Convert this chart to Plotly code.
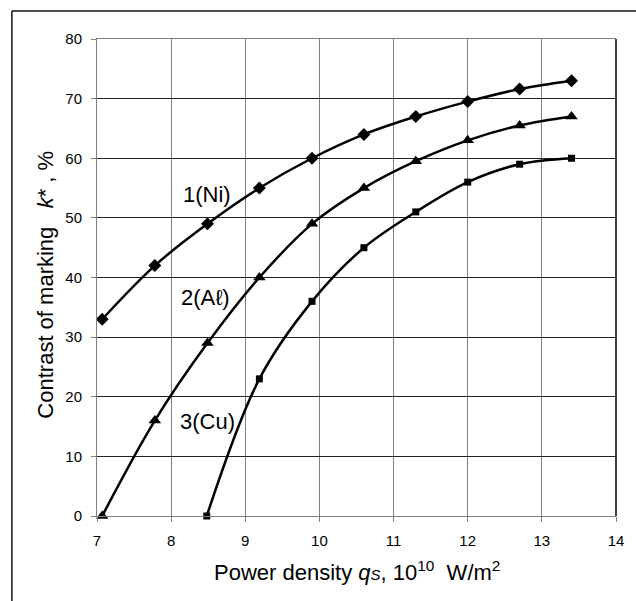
import plotly.graph_objects as go

# Data
x_ni = [7.07, 7.78, 8.49, 9.19, 9.9, 10.6, 11.3, 12.0, 12.7, 13.4]
y_ni = [33, 42, 49, 55, 60, 64, 67, 69.5, 71.6, 73]

x_al = [7.07, 7.78, 8.49, 9.19, 9.9, 10.6, 11.3, 12.0, 12.7, 13.4]
y_al = [0, 16, 29, 40, 49, 55, 59.5, 63, 65.5, 67]

x_cu = [8.48, 9.19, 9.9, 10.6, 11.3, 12.0, 12.7, 13.4]
y_cu = [0, 23, 36, 45, 51, 56, 59, 60]

series_names = ["1(Ni)", "2(Aℓ)", "3(Cu)"]
label_pos = [(8.48, 54.0), (8.46, 36.7), (8.49, 15.8)]

x_ticks = [7, 8, 9, 10, 11, 12, 13, 14]
y_ticks = [0, 10, 20, 30, 40, 50, 60, 70, 80]

FONT = "Arial, Liberation Sans, sans-serif"

fig = go.Figure()
for xs, ys, sym, sz, name in [
    (x_ni, y_ni, "diamond", 10, series_names[0]),
    (x_al, y_al, "triangle-up", 11, series_names[1]),
    (x_cu, y_cu, "square", 7, series_names[2]),
]:
    fig.add_trace(go.Scatter(
        x=xs, y=ys, mode="lines+markers", name=name,
        line=dict(color="black", width=2.5, shape="spline", smoothing=1),
        marker=dict(symbol=sym, size=sz, color="black"),
        showlegend=False, cliponaxis=False,
    ))

for name, (lx, ly) in zip(series_names, label_pos):
    fig.add_annotation(x=lx, y=ly, text=name, showarrow=False,
                       xanchor="center", yanchor="middle",
                       font=dict(family=FONT, size=22, color="black"))

fig.add_annotation(xref="paper", yref="paper", x=0.5, y=-0.1153,
                   text="Power density <i>q<span style='font-size:15px'>S</span></i>, 10<sup>10</sup>  W/m<sup>2</sup>",
                   showarrow=False, xanchor="center", yanchor="middle",
                   font=dict(family=FONT, size=22, color="black"))
fig.add_annotation(xref="paper", yref="paper", x=-0.0992, y=0.484,
                   text="Contrast of marking   <i>k</i>* , %", textangle=-90,
                   showarrow=False, xanchor="center", yanchor="middle",
                   font=dict(family=FONT, size=22, color="black"))

# outer frame (left and top edges visible; others fall outside the page)
fig.add_shape(type="line", xref="paper", yref="paper",
              x0=-0.164, x1=1.6, y0=1.0587, y1=1.0587,
              line=dict(color="#111", width=1.5), layer="below")
fig.add_shape(type="line", xref="paper", yref="paper",
              x0=-0.164, x1=-0.164, y0=-0.4, y1=1.0587,
              line=dict(color="#111", width=1.5), layer="below")
# right plot border
fig.add_shape(type="line", xref="paper", yref="paper",
              x0=1, x1=1, y0=0, y1=1, line=dict(color="black", width=1.5))

fig.update_xaxes(range=[7, 14], tickvals=x_ticks, showgrid=True,
                 gridcolor="#808080", gridwidth=1, showline=True,
                 linecolor="#808080", linewidth=1, mirror=True,
                 ticks="outside", ticklen=5, tickcolor="#808080",
                 ticklabelstandoff=6, zeroline=False,
                 tickfont=dict(family=FONT, size=15, color="black"))
fig.update_yaxes(range=[0, 80], tickvals=y_ticks, showgrid=True,
                 gridcolor="#222", gridwidth=1, showline=True,
                 linecolor="#808080", linewidth=1,
                 ticks="outside", ticklen=5, tickcolor="#808080",
                 ticklabelstandoff=6, zeroline=False,
                 tickfont=dict(family=FONT, size=15, color="black"))

fig.update_layout(width=636, height=601,
                  margin=dict(l=97, r=15, t=39, b=85),
                  plot_bgcolor="white", paper_bgcolor="white")

fig.write_html("out.html")
